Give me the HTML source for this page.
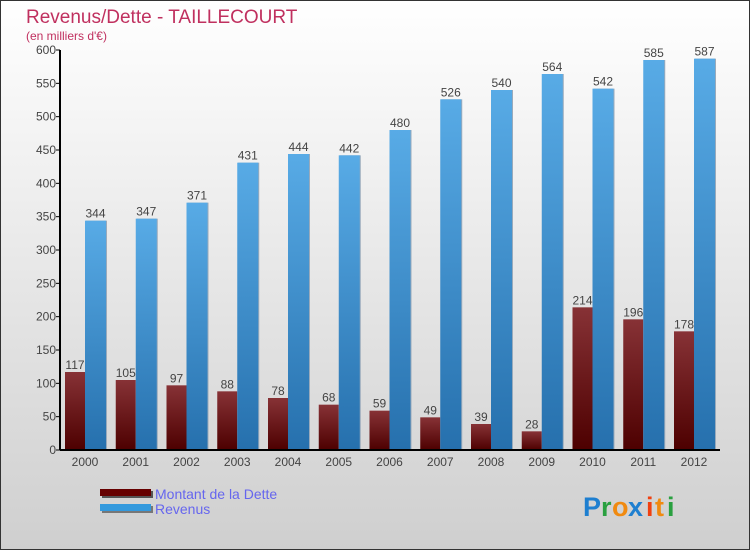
<!DOCTYPE html>
<html><head><meta charset="utf-8"><style>
html,body{margin:0;padding:0}
body{width:750px;height:550px;overflow:hidden;font-family:"Liberation Sans",sans-serif}
</style></head><body>
<svg id="chart" width="750" height="550" xmlns="http://www.w3.org/2000/svg">
<defs>
<linearGradient id="bg" x1="0" y1="0" x2="0" y2="1"><stop offset="0" stop-color="#ffffff"/><stop offset="1" stop-color="#cfcfcf"/></linearGradient>
<linearGradient id="gd" x1="0" y1="0" x2="0" y2="1"><stop offset="0" stop-color="#873236"/><stop offset="1" stop-color="#4d0000"/></linearGradient>
<linearGradient id="gr" x1="0" y1="0" x2="0" y2="1"><stop offset="0" stop-color="#58abe6"/><stop offset="1" stop-color="#2670ad"/></linearGradient>
</defs>
<rect x="0.5" y="0.5" width="749" height="549" fill="url(#bg)" stroke="#333" stroke-width="1"/>
<text x="26" y="23" font-size="19" fill="#c0305f">Revenus/Dette - TAILLECOURT</text>
<text x="26" y="40" font-size="12" fill="#c0305f">(en milliers d'€)</text>
<g id="yaxis"></g>
<g id="bars"></g>
<g id="xaxis"></g>
<g>
<rect x="102" y="491" width="51" height="7" fill="#555"/>
<rect x="100" y="489" width="51" height="7" fill="#660000"/>
<text x="155" y="499" font-size="14" fill="#6666ee">Montant de la Dette</text>
<rect x="102" y="506" width="51" height="7" fill="#777"/>
<rect x="100" y="504" width="51" height="7" fill="#3399dd"/>
<text x="155" y="514" font-size="14" fill="#6666ee">Revenus</text>
</g>
<g font-size="27" font-weight="bold">
<text x="583" y="516" fill="#1e7fd0">P</text><text x="601" y="516" fill="#2aa040">r</text><text x="612" y="516" fill="#f08a10">o</text><text x="628" y="516" fill="#1e7fd0">x</text><text x="646" y="516" fill="#f04010">i</text><text x="655" y="516" fill="#f08a10">t</text><text x="667" y="516" fill="#2aa040">i</text>
</g>
</svg>
<script>
const years=["2000","2001","2002","2003","2004","2005","2006","2007","2008","2009","2010","2011","2012"];
const debt=[117,105,97,88,78,68,59,49,39,28,214,196,178];
const revenue=[344,347,371,431,444,442,480,526,540,564,542,585,587];
const yTicks=[0,50,100,150,200,250,300,350,400,450,500,550,600];
const NS="http://www.w3.org/2000/svg";
const y0=450,yMax=600,plotH=400,x0=60,x1=720,step=50.75,firstX=65,bw=20;
function yS(v){return y0-v/yMax*plotH;}
function xS(i){return firstX+i*step;}
function mk(tag,attrs,parent,txt){const e=document.createElementNS(NS,tag);for(const k in attrs)e.setAttribute(k,attrs[k]);if(txt!==undefined)e.textContent=txt;parent.appendChild(e);return e;}
const ya=document.getElementById('yaxis'),xa=document.getElementById('xaxis'),bg=document.getElementById('bars');
let l=mk('line',{x1:x0,y1:50,x2:x0,y2:y0,stroke:'#000','stroke-width':2},ya);


yTicks.forEach(t=>{
 const tk=mk('line',{x1:x0-4,y1:yS(t),x2:x0,y2:yS(t),stroke:'#000'},ya);
 
 
 const tx=mk('text',{x:x0-4,y:yS(t)+4,'font-size':12,fill:'#444','text-anchor':'end'},ya,String(t));
 
 
});
years.forEach((yr,i)=>{
 const x=xS(i);
 const d=mk('rect',{x:x,y:yS(debt[i]),width:bw,height:y0-yS(debt[i]),fill:'url(#gd)'},bg);
 
 
 const rs=mk('rect',{x:x+bw+1,y:yS(revenue[i]),width:21,height:y0-yS(revenue[i]),fill:'#9ab'},bg);
 
 
 const r=mk('rect',{x:x+bw,y:yS(revenue[i]),width:21,height:y0-yS(revenue[i]),fill:'url(#gr)'},bg);
 
 
 const dl=mk('text',{x:x+bw/2,y:yS(debt[i])-3,'font-size':12,fill:'#444','text-anchor':'middle'},bg,String(debt[i]));
 
 
 const rl=mk('text',{x:x+bw+10.5,y:yS(revenue[i])-3,'font-size':12,fill:'#444','text-anchor':'middle'},bg,String(revenue[i]));
 
 
 const xl=mk('text',{x:x+bw,y:y0+16,'font-size':12,fill:'#444','text-anchor':'middle'},xa,yr);
 
 
});
const xl=mk('line',{x1:x0,y1:y0,x2:x1,y2:y0,stroke:'#000','stroke-width':2},xa);


</script>
</body></html>
